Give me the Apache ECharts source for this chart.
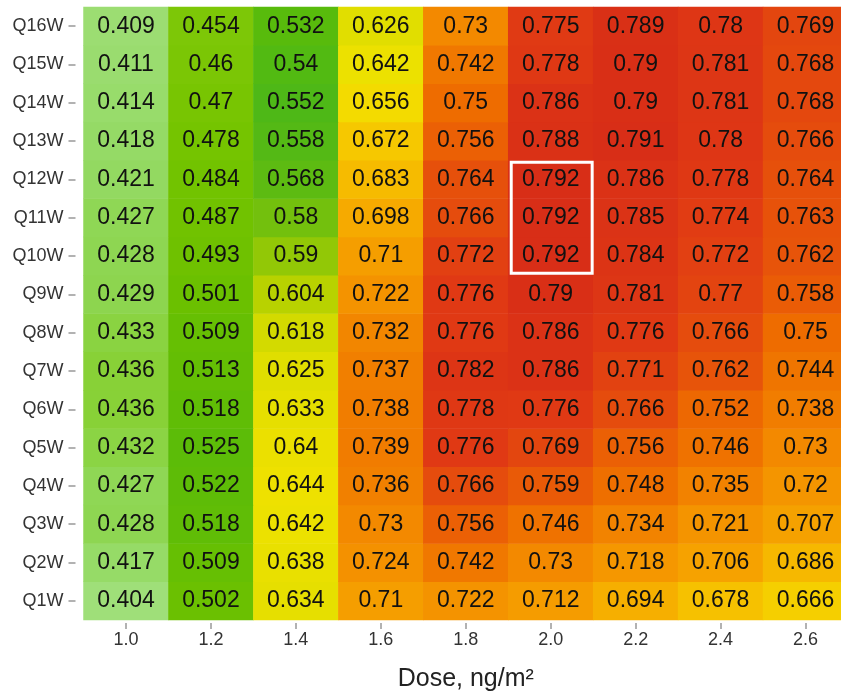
<!DOCTYPE html>
<html>
<head>
<meta charset="utf-8">
<script src="https://cdn.jsdelivr.net/npm/echarts@6/dist/echarts.min.js"></script>
<style>
html,body{margin:0;padding:0;background:#fff;overflow:hidden;width:841px;height:692px;}
#chart{width:850px;height:692px;}
</style>
</head>
<body>
<div id="chart"></div>
<script>
// Categories
const doses = ['1.0','1.2','1.4','1.6','1.8','2.0','2.2','2.4','2.6'];
const weeks = ['Q1W','Q2W','Q3W','Q4W','Q5W','Q6W','Q7W','Q8W','Q9W','Q10W','Q11W','Q12W','Q13W','Q14W','Q15W','Q16W'];

// Values per row (columns follow doses)
const Q16W = [0.409,0.454,0.532,0.626,0.73,0.775,0.789,0.78,0.769];
const Q15W = [0.411,0.46,0.54,0.642,0.742,0.778,0.79,0.781,0.768];
const Q14W = [0.414,0.47,0.552,0.656,0.75,0.786,0.79,0.781,0.768];
const Q13W = [0.418,0.478,0.558,0.672,0.756,0.788,0.791,0.78,0.766];
const Q12W = [0.421,0.484,0.568,0.683,0.764,0.792,0.786,0.778,0.764];
const Q11W = [0.427,0.487,0.58,0.698,0.766,0.792,0.785,0.774,0.763];
const Q10W = [0.428,0.493,0.59,0.71,0.772,0.792,0.784,0.772,0.762];
const Q9W  = [0.429,0.501,0.604,0.722,0.776,0.79,0.781,0.77,0.758];
const Q8W  = [0.433,0.509,0.618,0.732,0.776,0.786,0.776,0.766,0.75];
const Q7W  = [0.436,0.513,0.625,0.737,0.782,0.786,0.771,0.762,0.744];
const Q6W  = [0.436,0.518,0.633,0.738,0.778,0.776,0.766,0.752,0.738];
const Q5W  = [0.432,0.525,0.64,0.739,0.776,0.769,0.756,0.746,0.73];
const Q4W  = [0.427,0.522,0.644,0.736,0.766,0.759,0.748,0.735,0.72];
const Q3W  = [0.428,0.518,0.642,0.73,0.756,0.746,0.734,0.721,0.707];
const Q2W  = [0.417,0.509,0.638,0.724,0.742,0.73,0.718,0.706,0.686];
const Q1W  = [0.404,0.502,0.634,0.71,0.722,0.712,0.694,0.678,0.666];

const rows = {Q1W,Q2W,Q3W,Q4W,Q5W,Q6W,Q7W,Q8W,Q9W,Q10W,Q11W,Q12W,Q13W,Q14W,Q15W,Q16W};

// Highlighted block
const highlight = {dose: '2.0', from: 'Q10W', to: 'Q12W'};

// Colour ramp, evenly spaced from 0.40 to 0.80
const ramp = ['#a2e07e','#90d85c','#7ec808','#76c400','#6cc000','#5cbc08','#4cb818','#64bc10',
              '#b0d000','#e0de00','#f2e200','#f6c400','#f6a800','#f49000','#ee6c00','#e03a14','#d42818'];

const data = [];
weeks.forEach((w, yi) => {
  rows[w].forEach((v, xi) => data.push([xi, yi, v]));
});

const chart = echarts.init(document.getElementById('chart'));
const font = "'Liberation Sans', Arial, Helvetica, sans-serif";
chart.setOption({
  animation: false,
  grid: {left: 83.5, right: 2, top: 7, bottom: 72, outerBoundsMode: 'none', containLabel: false},
  xAxis: {
    type: 'category', data: doses, position: 'bottom', offset: 3,
    axisLine: {show: false},
    axisTick: {show: true, length: 6, alignWithLabel: true, lineStyle: {color: '#999', width: 1.5}},
    axisLabel: {fontSize: 18, color: '#333', fontFamily: font, margin: 8},
    splitLine: {show: false},
    name: 'Dose, ng/m²', nameLocation: 'middle', nameGap: 44,
    nameTextStyle: {fontSize: 25, color: '#222', fontFamily: font}
  },
  yAxis: {
    type: 'category', data: weeks, offset: 8,
    axisLine: {show: false},
    axisTick: {show: true, length: 7, alignWithLabel: true, lineStyle: {color: '#999', width: 1.5}},
    axisLabel: {fontSize: 18, color: '#333', fontFamily: font, margin: 12},
    splitLine: {show: false}
  },
  visualMap: {
    show: false, min: 0.40, max: 0.80, dimension: 2, seriesIndex: 0,
    inRange: {color: ramp}
  },
  series: [{
    type: 'heatmap',
    data: data,
    label: {
      show: true, fontSize: 23, color: '#111', fontFamily: font,
      formatter: p => String(p.value[2])
    },
    itemStyle: {borderWidth: 0},
    emphasis: {disabled: true}
  }, {
    type: 'custom',
    data: [[doses.indexOf(highlight.dose), weeks.indexOf(highlight.from), weeks.indexOf(highlight.to)]],
    renderItem: function (params, api) {
      const p1 = api.coord([api.value(0), api.value(1)]);
      const p2 = api.coord([api.value(0), api.value(2)]);
      const sz = api.size([1, 1]);
      const x = p1[0] - sz[0] / 2 + 3;
      const y = p2[1] - sz[1] / 2 + 2;
      const w = sz[0] - 4;
      const h = (p1[1] - p2[1]) + sz[1] - 4;
      return {
        type: 'rect',
        shape: {x: x, y: y, width: w, height: h},
        style: {fill: 'none', stroke: '#fff', lineWidth: 3}
      };
    },
    z: 10, silent: true
  }]
});
</script>
</body>
</html>
